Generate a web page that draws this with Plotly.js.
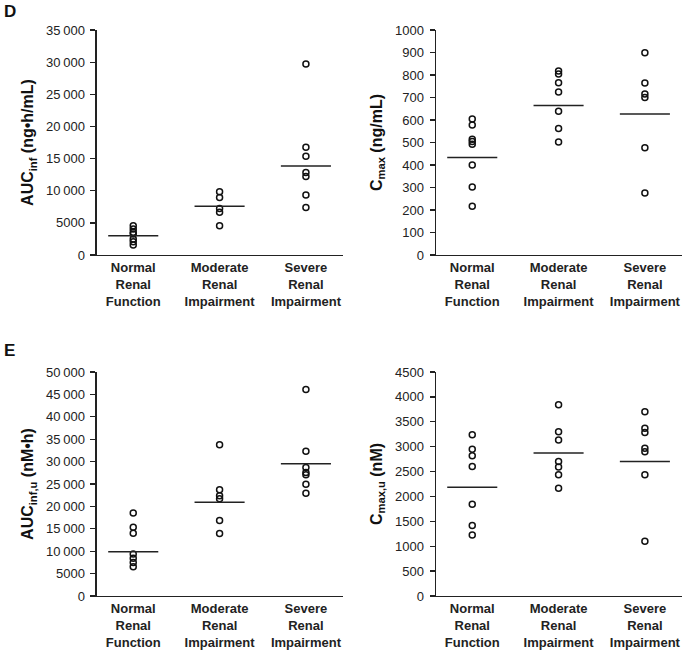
<!DOCTYPE html>
<html>
<head>
<meta charset="utf-8">
<script src="https://cdn.plot.ly/plotly-3.0.1.min.js"></script>
<style>html,body{margin:0;padding:0;background:#fff}#chart{width:682px;height:650px}</style>
</head>
<body>
<div id="chart"></div>
<script>
// ---- data ----
const groupTicks = ['Normal<br>Renal<br>Function', 'Moderate<br>Renal<br>Impairment', 'Severe<br>Renal<br>Impairment'];

// Panel D: AUCinf (ng•h/mL)
const aucInfNormal   = [4550, 4050, 3550, 3250, 2500, 2050, 1550];
const aucInfModerate = [9850, 8950, 7250, 6650, 4550];
const aucInfSevere   = [29700, 16750, 15350, 12850, 12200, 9350, 7400];
const aucInfMean     = [3000, 7600, 13850];

// Panel D: Cmax (ng/mL)
const cmaxNormal   = [605, 578, 515, 505, 492, 400, 302, 217];
const cmaxModerate = [818, 805, 766, 724, 639, 562, 502];
const cmaxSevere   = [899, 764, 716, 700, 477, 276];
const cmaxMean     = [433, 665, 627];

// Panel E: AUCinf,u (nM•h)
const aucInfUNormal   = [18500, 15350, 14000, 9400, 8400, 7450, 6550];
const aucInfUModerate = [33750, 23700, 22400, 21700, 16850, 13950];
const aucInfUSevere   = [46100, 32300, 28700, 27550, 27050, 24950, 22950];
const aucInfUMean     = [9900, 20950, 29500];

// Panel E: Cmax,u (nM)
const cmaxUNormal   = [3240, 2950, 2815, 2600, 1845, 1415, 1225];
const cmaxUModerate = [3840, 3300, 3135, 2700, 2590, 2435, 2165];
const cmaxUSevere   = [3700, 3370, 3285, 2970, 2900, 2435, 1100];
const cmaxUMean     = [2185, 2875, 2700];

const yMax = [35000, 1000, 50000, 4500];
const yDtick = [5000, 100, 5000, 500];
const yTitles = [
  'AUC<sub>inf</sub> (ng•h/mL)',
  'C<sub>max</sub> (ng/mL)',
  'AUC<sub>inf,u</sub> (nM•h)',
  'C<sub>max,u</sub> (nM)'
];

// ---- build ----
const FONT = 'Liberation Sans, Arial, sans-serif';
const panels = [
  [aucInfNormal, aucInfModerate, aucInfSevere, aucInfMean],
  [cmaxNormal, cmaxModerate, cmaxSevere, cmaxMean],
  [aucInfUNormal, aucInfUModerate, aucInfUSevere, aucInfUMean],
  [cmaxUNormal, cmaxUModerate, cmaxUSevere, cmaxUMean]
];
const xDomains = [[0.1422, 0.503], [0.6393, 1.0], [0.1422, 0.503], [0.6393, 1.0]];
const yDomains = [[0.6077, 0.9538], [0.6077, 0.9538], [0.0831, 0.4277], [0.0831, 0.4277]];
const halfW = 0.29;

const traces = [];
const layout = {
  width: 682, height: 650,
  margin: {l: 0, r: 0, t: 0, b: 0},
  paper_bgcolor: '#fff', plot_bgcolor: '#fff',
  showlegend: false,
  separators: '.\u2009',
  font: {family: FONT, color: '#222'},
  annotations: [
    {text: '<b>D</b>', xref: 'paper', yref: 'paper', x: 0.003, y: 1.0, xanchor: 'left', yanchor: 'top', showarrow: false, font: {size: 17, family: FONT, color: '#111'}},
    {text: '<b>E</b>', xref: 'paper', yref: 'paper', x: 0.003, y: 0.479, xanchor: 'left', yanchor: 'top', showarrow: false, font: {size: 17, family: FONT, color: '#111'}}
  ]
};

panels.forEach((p, k) => {
  const n = k + 1;
  const xa = n === 1 ? 'x' : 'x' + n;
  const ya = n === 1 ? 'y' : 'y' + n;
  for (let g = 0; g < 3; g++) {
    traces.push({
      type: 'scatter', mode: 'markers', xaxis: xa, yaxis: ya,
      x: p[g].map(() => g), y: p[g],
      marker: {symbol: 'circle-open', size: 6, color: '#111', line: {width: 1.5, color: '#111'}},
      hoverinfo: 'y', cliponaxis: false
    });
  }
  const lx = [], ly = [];
  p[3].forEach((m, g) => { lx.push(g - halfW, g + halfW, null); ly.push(m, m, null); });
  traces.push({
    type: 'scatter', mode: 'lines', xaxis: xa, yaxis: ya,
    x: lx, y: ly, line: {color: '#222', width: 1.5}, hoverinfo: 'skip'
  });
  layout['xaxis' + (n === 1 ? '' : n)] = {
    domain: xDomains[k], anchor: ya, range: [-0.42, 2.43],
    tickvals: [0, 1, 2], ticktext: groupTicks, ticks: '',
    ticklabelstandoff: 0,
    showline: true, linecolor: '#222', linewidth: 1.5,
    showgrid: false, zeroline: false, fixedrange: true,
    tickfont: {size: 13, family: FONT, color: '#222', weight: 'bold'}
  };
  layout['yaxis' + (n === 1 ? '' : n)] = {
    domain: yDomains[k], anchor: xa, range: [0, yMax[k]],
    dtick: yDtick[k], tick0: 0, exponentformat: 'none',
    ticks: 'outside', ticklen: 5, tickwidth: 1.3, tickcolor: '#222',
    ticklabelstandoff: 3,
    showline: true, linecolor: '#222', linewidth: 1.5,
    showgrid: false, zeroline: false, fixedrange: true,
    tickfont: {size: 13, family: FONT, color: '#222'},
    title: {text: yTitles[k], standoff: 8, font: {size: 16, family: FONT, color: '#111', weight: 'bold'}}
  };
});

Plotly.newPlot('chart', traces, layout, {staticPlot: true, displayModeBar: false});
</script>
</body>
</html>
